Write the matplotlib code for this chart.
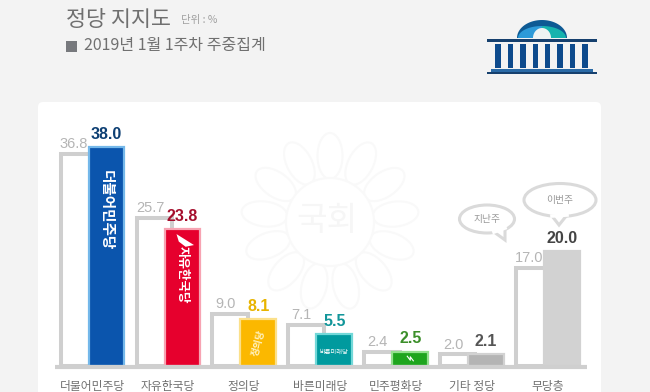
#!/usr/bin/env python3
import numpy as np
import matplotlib
matplotlib.use('Agg')
import matplotlib.pyplot as plt
from matplotlib.patches import Ellipse, FancyBboxPatch, Polygon, Rectangle

plt.rcParams['font.family'] = ['Noto Sans CJK KR', 'DejaVu Sans']

parties = ['더불어민주당', '자유한국당', '정의당', '바른미래당', '민주평화당', '기타 정당', '무당층']
last_week = [36.8, 25.7, 9.0, 7.1, 2.4, 2.0, 17.0]
this_week = [38.0, 23.8, 8.1, 5.5, 2.5, 2.1, 20.0]
fills = ['#0b55ad', '#e6002d', '#fbb800', '#009a9e', '#1ea51e', '#b4b4b4', '#d2d2d2']
edges = ['#74b8ea', '#f7a3b2', '#fbe08a', '#72d8d8', '#92e08e', '#d2d2d2', '#d2d2d2']
val_colors = ['#0d3f73', '#a50f2d', '#e8b400', '#12969a', '#3c8f2a', '#555555', '#444444']
GREY = '#cfcfcf'
BUB = '#dadada'

def half_ell(cx, cy, rx, ry, t0, t1):
    t = np.radians(np.linspace(t0, t1, 40))
    return np.column_stack([cx + rx * np.cos(t), cy - ry * np.sin(t)])

def bubble(bg, cx, cy, w, h, tail, txt):
    bg.add_patch(Ellipse((cx, cy), w, h, fc='white', ec=BUB, lw=2.2))
    bg.add_patch(Polygon(tail, closed=False, fc='white', ec=BUB, lw=2.2, joinstyle='miter'))
    bg.plot([tail[0][0], tail[2][0]], [tail[0][1], tail[2][1]], color='white', lw=2.6)
    bg.text(cx, cy, txt, fontsize=7, color='#999999', ha='center', va='center')

fig = plt.figure(figsize=(6.5, 3.92), dpi=100, facecolor='#f3f3f3')

# pixel canvas for the decoration
bg = fig.add_axes([0, 0, 1, 1]); bg.set_xlim(0, 650); bg.set_ylim(392, 0); bg.axis('off')
bg.add_patch(FancyBboxPatch((38, 102), 563, 302, boxstyle='round,pad=0,rounding_size=5', fc='white', ec='none'))

bg.text(66, 20, '정당 지지도', fontsize=15.7, color='#707070', va='center')
bg.text(181, 20, '단위 : %', fontsize=7.5, color='#a0a0a0', va='center')
bg.add_patch(Rectangle((66, 41), 11, 11, fc='#77797d', ec='none'))
bg.text(84, 45, '2019년 1월 1주차 주중집계', fontsize=11.5, color='#707070', va='center')

# assembly logo
bg.add_patch(Polygon(half_ell(542, 38, 25, 18, 0, 180), fc='#0d5a94', ec='none'))
bg.add_patch(Polygon(half_ell(542, 38, 24, 12, 90, 180).tolist() + [[542, 38]], fc='#2d9ad8', ec='none'))
bg.add_patch(Polygon(half_ell(542, 38, 24, 12, 0, 90).tolist() + [[542, 38]], fc='#16b3ae', ec='none'))
bg.add_patch(Polygon(half_ell(542, 38, 9, 10, 0, 180), fc='#eef3f3', ec='none'))
bg.add_patch(Rectangle((487, 39), 110, 3, fc='#16406e', ec='none'))
bg.add_patch(Rectangle((491, 69), 102, 3, fc='#2a6aa6', ec='none'))
bg.add_patch(Rectangle((487, 72), 110, 2.2, fc='#16406e', ec='none'))
for x in np.linspace(498, 585, 8):
    bg.add_patch(Rectangle((x - 2.7, 44), 5.4, 24, fc='#0d4a8c', ec='none'))

# watermark
wm = '#f9f9f9'
for ang in np.arange(-90, 270, 27.7):
    cx = 330 + 66 * np.cos(np.radians(ang)); cy = 222 + 66 * np.sin(np.radians(ang))
    bg.add_patch(Ellipse((cx, cy), 46, 25, angle=ang, fc='none', ec=wm, lw=1.5))
bg.add_patch(Ellipse((330, 222), 88, 88, fc='white', ec=wm, lw=1.5))
bg.text(327, 220, '국회', fontsize=24, color='#f6f6f6', ha='center', va='center')

# speech bubbles
bubble(bg, 487, 219, 55, 28, [[494, 232], [505, 240], [505, 228]], '지난주')
bubble(bg, 560, 200, 72, 33, [[552, 216], [559, 225], [567, 215]], '이번주')

# chart axes, category spacing 75.9 px and 5.76 px per percent
ax = fig.add_axes([0, 0, 1, 1]); ax.patch.set_alpha(0); ax.axis('off')
ax.set_xlim(-91.5 / 75.9, (650 - 91.5) / 75.9)
ax.set_ylim(-26 / 5.76, 366 / 5.76)

x = np.arange(len(parties))
ax.bar(x - 0.174, last_week, 0.466, color='white', edgecolor=GREY, linewidth=2.9, zorder=2)
ax.bar(x + 0.197, this_week, 0.47, color=fills, edgecolor=edges, linewidth=1.6, zorder=3)
ax.plot([-0.48, 6.53], [-0.1, -0.1], color=GREY, linewidth=3, solid_capstyle='butt', zorder=4)

for i in x:
    ax.text(i - 0.23, last_week[i] + 0.5, f'{last_week[i]:.1f}', fontsize=10.5, color='#b5b5b5',
            ha='center', va='bottom', family='Liberation Sans', zorder=5)
    ax.text(i + 0.2, this_week[i] + 0.9, f'{this_week[i]:.1f}', fontsize=11.5, color=val_colors[i],
            ha='center', va='bottom', fontweight='bold', family='Liberation Sans', zorder=5)
    ax.text(i + 0.01, -3.5, parties[i], fontsize=8.5, color='#707070', ha='center', va='center', zorder=5)

# party marks written on the bars
ax.text(0.197, 27.1, '더불어민주당', rotation=270, fontsize=10.5, fontweight='bold', color='white', ha='center', va='center', zorder=6)
ax.text(1.197, 15.8, '자유한국당', rotation=270, fontsize=9, fontweight='bold', color='white', ha='center', va='center', zorder=6)
ax.add_patch(Polygon([[1.12, 22.9], [1.35, 21.0], [1.24, 20.7], [1.15, 21.6]], fc='white', ec='none', zorder=6))
ax.text(2.197, 4, '정의당', rotation=75, fontsize=7, fontweight='bold', color='#fff3c4', ha='center', va='center', zorder=6)
ax.text(3.197, 2.5, '바른미래당', fontsize=4.5, color='white', ha='center', va='center', zorder=6)
ax.plot([4.16, 4.2, 4.2, 4.24], [1.7, 1.0, 1.6, 0.9], color='white', linewidth=0.8, zorder=6)

fig.savefig('out.png', dpi=100, facecolor=fig.get_facecolor())
